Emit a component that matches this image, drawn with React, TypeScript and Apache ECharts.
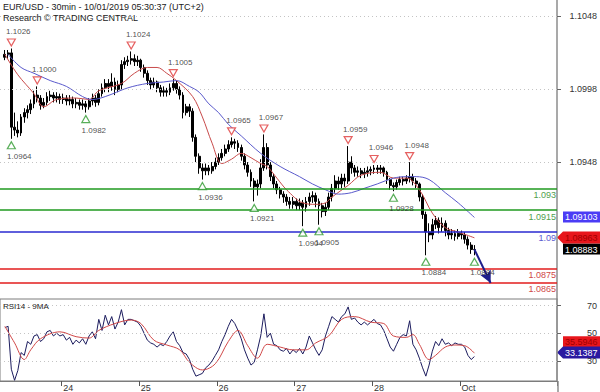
import React, { useEffect, useRef } from 'react';
import * as echarts from 'echarts';

// ---------- data ----------
const N_CATS = 172;
const DAY_TICKS: [number, string][] = [[19, '24'], [43, '25'], [67, '26'], [91, '27'], [115, '28'], [142, 'Oct']];
const PRICE_TICKS = [1.0948, 1.0998, 1.1048];
const RSI_TICKS = [30, 50, 70];

// hourly candles: [index, open, close, low, high]
const CANDLES: number[][] = [
  [1, 1.1020, 1.1022, 1.1018, 1.1025], [2, 1.1022, 1.1023, 1.1019, 1.1025], [3, 1.1023, 1.0972, 1.0964, 1.1026],
  [4, 1.0972, 1.0970, 1.0966, 1.0982], [5, 1.0970, 1.0968, 1.0965, 1.0976], [6, 1.0968, 1.0979, 1.0966, 1.0981],
  [7, 1.0979, 1.0982, 1.0975, 1.0985], [8, 1.0982, 1.0984, 1.0978, 1.0987], [9, 1.0984, 1.0988, 1.0981, 1.0991],
  [10, 1.0988, 1.0994, 1.0985, 1.0997], [11, 1.0994, 1.0992, 1.0989, 1.1000], [12, 1.0992, 1.0987, 1.0984, 1.0994],
  [13, 1.0987, 1.0989, 1.0985, 1.0992], [14, 1.0989, 1.0993, 1.0987, 1.0996], [15, 1.0993, 1.0994, 1.0990, 1.0997],
  [16, 1.0994, 1.0992, 1.0989, 1.0996], [17, 1.0992, 1.0993, 1.0989, 1.0996], [18, 1.0993, 1.0991, 1.0988, 1.0995],
  [19, 1.0991, 1.0992, 1.0988, 1.0995], [20, 1.0992, 1.0990, 1.0987, 1.0994], [21, 1.0990, 1.0991, 1.0987, 1.0994],
  [22, 1.0991, 1.0988, 1.0985, 1.0993], [23, 1.0988, 1.0989, 1.0985, 1.0992], [24, 1.0989, 1.0987, 1.0984, 1.0991],
  [25, 1.0987, 1.0988, 1.0984, 1.0991], [26, 1.0988, 1.0986, 1.0982, 1.0990], [27, 1.0986, 1.0990, 1.0984, 1.0992],
  [28, 1.0990, 1.0992, 1.0987, 1.0995], [29, 1.0992, 1.0989, 1.0986, 1.0994], [30, 1.0989, 1.0995, 1.0987, 1.0998],
  [31, 1.0995, 1.0999, 1.0993, 1.1002], [32, 1.0999, 1.1002, 1.0996, 1.1005], [33, 1.1002, 1.1000, 1.0996, 1.1005],
  [34, 1.1000, 1.1003, 1.0997, 1.1009], [35, 1.1003, 1.0998, 1.0994, 1.1006], [36, 1.0998, 1.1001, 1.0996, 1.1004],
  [37, 1.1001, 1.1015, 1.0998, 1.1018], [38, 1.1015, 1.1017, 1.1012, 1.1020], [39, 1.1017, 1.1018, 1.1014, 1.1021],
  [40, 1.1018, 1.1019, 1.1015, 1.1024], [41, 1.1019, 1.1017, 1.1014, 1.1022], [42, 1.1017, 1.1018, 1.1014, 1.1021],
  [43, 1.1018, 1.1013, 1.1010, 1.1019], [44, 1.1013, 1.1009, 1.1006, 1.1015], [45, 1.1009, 1.1004, 1.1001, 1.1011],
  [46, 1.1004, 1.1001, 1.0998, 1.1006], [47, 1.1001, 1.1003, 1.0999, 1.1006], [48, 1.1003, 1.0999, 1.0996, 1.1004],
  [49, 1.0999, 1.0996, 1.0993, 1.1001], [50, 1.0996, 1.0997, 1.0993, 1.1000], [51, 1.0997, 1.0996, 1.0993, 1.0999],
  [52, 1.0996, 1.0999, 1.0994, 1.1002], [53, 1.0999, 1.1002, 1.0997, 1.1005], [54, 1.1002, 1.0998, 1.0995, 1.1004],
  [55, 1.0998, 1.0994, 1.0991, 1.1000], [56, 1.0994, 1.0982, 1.0978, 1.0996], [57, 1.0982, 1.0986, 1.0980, 1.0988],
  [58, 1.0986, 1.0983, 1.0979, 1.0988], [59, 1.0983, 1.0965, 1.0962, 1.0985], [60, 1.0965, 1.0952, 1.0948, 1.0967],
  [61, 1.0952, 1.0944, 1.0940, 1.0954], [62, 1.0944, 1.0942, 1.0936, 1.0947], [63, 1.0942, 1.0944, 1.0939, 1.0947],
  [64, 1.0944, 1.0942, 1.0939, 1.0946], [65, 1.0942, 1.0945, 1.0940, 1.0948], [66, 1.0945, 1.0948, 1.0943, 1.0951],
  [67, 1.0948, 1.0951, 1.0946, 1.0954], [68, 1.0951, 1.0954, 1.0949, 1.0957], [69, 1.0954, 1.0957, 1.0952, 1.0960],
  [70, 1.0957, 1.0960, 1.0955, 1.0963], [71, 1.0960, 1.0962, 1.0958, 1.0965], [72, 1.0962, 1.0961, 1.0957, 1.0964],
  [73, 1.0961, 1.0958, 1.0955, 1.0963], [74, 1.0958, 1.0952, 1.0949, 1.0960], [75, 1.0952, 1.0946, 1.0943, 1.0954],
  [76, 1.0946, 1.0941, 1.0938, 1.0948], [77, 1.0941, 1.0935, 1.0931, 1.0943], [78, 1.0935, 1.0931, 1.0921, 1.0937],
  [79, 1.0931, 1.0933, 1.0925, 1.0936], [80, 1.0933, 1.0944, 1.0930, 1.0950], [81, 1.0944, 1.0958, 1.0942, 1.0967],
  [82, 1.0958, 1.0946, 1.0943, 1.0961], [83, 1.0946, 1.0938, 1.0935, 1.0948], [84, 1.0938, 1.0933, 1.0930, 1.0940],
  [85, 1.0933, 1.0929, 1.0926, 1.0935], [86, 1.0929, 1.0926, 1.0923, 1.0931], [87, 1.0926, 1.0924, 1.0920, 1.0928],
  [88, 1.0924, 1.0921, 1.0918, 1.0926], [89, 1.0921, 1.0919, 1.0916, 1.0924], [90, 1.0919, 1.0921, 1.0916, 1.0924],
  [91, 1.0921, 1.0918, 1.0915, 1.0923], [92, 1.0918, 1.0920, 1.0915, 1.0923], [93, 1.0920, 1.0917, 1.0904, 1.0922],
  [94, 1.0917, 1.0921, 1.0914, 1.0924], [95, 1.0921, 1.0924, 1.0918, 1.0927], [96, 1.0924, 1.0925, 1.0920, 1.0928],
  [97, 1.0925, 1.0921, 1.0917, 1.0927], [98, 1.0921, 1.0918, 1.0905, 1.0923], [99, 1.0918, 1.0914, 1.0910, 1.0920],
  [100, 1.0914, 1.0917, 1.0911, 1.0920], [101, 1.0917, 1.0924, 1.0915, 1.0927], [102, 1.0924, 1.0930, 1.0921, 1.0933],
  [103, 1.0930, 1.0935, 1.0927, 1.0939], [104, 1.0935, 1.0933, 1.0929, 1.0938], [105, 1.0933, 1.0937, 1.0930, 1.0940],
  [106, 1.0937, 1.0935, 1.0931, 1.0940], [107, 1.0935, 1.0948, 1.0933, 1.0959], [108, 1.0948, 1.0944, 1.0940, 1.0952],
  [109, 1.0944, 1.0941, 1.0938, 1.0946], [110, 1.0941, 1.0942, 1.0938, 1.0945], [111, 1.0942, 1.0940, 1.0937, 1.0944],
  [112, 1.0940, 1.0941, 1.0937, 1.0944], [113, 1.0941, 1.0942, 1.0938, 1.0945], [114, 1.0942, 1.0943, 1.0939, 1.0945],
  [115, 1.0943, 1.0944, 1.0940, 1.0946], [116, 1.0944, 1.0943, 1.0940, 1.0946], [117, 1.0943, 1.0944, 1.0940, 1.0946],
  [118, 1.0944, 1.0941, 1.0938, 1.0945], [119, 1.0941, 1.0936, 1.0933, 1.0942], [120, 1.0936, 1.0932, 1.0929, 1.0937],
  [121, 1.0932, 1.0931, 1.0928, 1.0934], [122, 1.0931, 1.0934, 1.0929, 1.0936], [123, 1.0934, 1.0936, 1.0932, 1.0938],
  [124, 1.0936, 1.0935, 1.0932, 1.0938], [125, 1.0935, 1.0937, 1.0933, 1.0939], [126, 1.0937, 1.0938, 1.0934, 1.0948],
  [127, 1.0938, 1.0935, 1.0932, 1.0940], [128, 1.0935, 1.0933, 1.0930, 1.0937], [129, 1.0933, 1.0924, 1.0921, 1.0934],
  [130, 1.0924, 1.0912, 1.0909, 1.0926], [131, 1.0912, 1.0900, 1.0884, 1.0914], [132, 1.0900, 1.0898, 1.0893, 1.0906],
  [133, 1.0898, 1.0905, 1.0895, 1.0909], [134, 1.0905, 1.0908, 1.0902, 1.0911], [135, 1.0908, 1.0903, 1.0899, 1.0910],
  [136, 1.0903, 1.0906, 1.0900, 1.0910], [137, 1.0906, 1.0901, 1.0897, 1.0908], [138, 1.0901, 1.0898, 1.0895, 1.0903],
  [139, 1.0898, 1.0899, 1.0895, 1.0902], [140, 1.0899, 1.0897, 1.0894, 1.0901], [141, 1.0897, 1.0899, 1.0895, 1.0902],
  [142, 1.0899, 1.0898, 1.0895, 1.0901], [143, 1.0898, 1.0895, 1.0892, 1.0900], [144, 1.0895, 1.0891, 1.0888, 1.0897],
  [145, 1.0891, 1.0888, 1.0885, 1.0893], [146, 1.0888, 1.0888, 1.0884, 1.0891],
];

const RED_MA: number[][] = [
  [1, 1.1022], [5, 1.1008], [10, 1.0995], [13, 1.0986], [17, 1.0991], [23, 1.0992], [27, 1.0991], [30, 1.0997],
  [37, 1.1002], [41, 1.1009], [45, 1.1013], [48, 1.1013], [51, 1.1009], [54, 1.1004], [59, 1.0993], [62, 1.0979],
  [65, 1.0961], [68, 1.0947], [71, 1.0950], [74, 1.0954], [77, 1.0951], [80, 1.0947], [82, 1.0945], [85, 1.0937],
  [88, 1.0929], [93, 1.0920], [97, 1.0919], [100, 1.0920], [102, 1.0924], [107, 1.0932], [111, 1.0939], [117, 1.0941],
  [121, 1.0937], [125, 1.0937], [129, 1.0929], [133, 1.0913], [137, 1.0903], [141, 1.0900], [146, 1.0896],
];

const BLUE_MA: number[][] = [
  [2, 1.1022], [6, 1.1013], [10, 1.1009], [15, 1.1004], [20, 1.1000], [25, 1.0993], [28, 1.0991], [32, 1.0993],
  [39, 1.0999], [45, 1.1002], [50, 1.1003], [54, 1.1004], [58, 1.1000], [61, 1.0996], [64, 1.0988], [67, 1.0982],
  [70, 1.0974], [74, 1.0966], [80, 1.0954], [86, 1.0945], [92, 1.0938], [96, 1.0933], [100, 1.0929], [104, 1.0926],
  [108, 1.0927], [112, 1.0930], [116, 1.0933], [121, 1.0937], [125, 1.0938], [128, 1.0938], [132, 1.0936],
  [137, 1.0927], [141, 1.0920], [146, 1.0910],
];

const SWING_HIGHS: number[][] = [
  [3, 1.1026], [11, 1.1000], [40, 1.1024], [53, 1.1005], [71, 1.0965], [81, 1.0967], [107, 1.0959], [115, 1.0946], [126, 1.0948],
];
const SWING_LOWS: number[][] = [
  [3, 1.0964], [26, 1.0982], [62, 1.0936], [78, 1.0921], [93, 1.0904], [98, 1.0905], [121, 1.0928], [131, 1.0884], [146, 1.0884],
];

const LEVELS_GREEN = [1.093, 1.0915];
const LEVELS_BLUE = [1.09];
const LEVELS_RED = [1.0875, 1.0865];
const PROJECTION: number[][] = [[146, 1.0888], [151, 1.0865]];

const RSI: number[][] = [
  [1, 54], [2, 55], [3, 24], [4, 16], [5, 23], [6, 36], [7, 34], [8, 44], [9, 42], [10, 48], [11, 49], [12, 44],
  [13, 46], [14, 51], [15, 52], [16, 48], [17, 50], [18, 48], [19, 49], [20, 45], [21, 47], [22, 42], [23, 45],
  [24, 43], [25, 46], [26, 42], [27, 48], [28, 51], [29, 46], [30, 60], [31, 52], [32, 63], [33, 56], [34, 62],
  [35, 53], [36, 58], [37, 67], [38, 56], [39, 60], [40, 60], [41, 59], [42, 58], [43, 55], [44, 50], [45, 45],
  [46, 43], [47, 42], [48, 40], [49, 42], [50, 41], [51, 44], [52, 48], [53, 51], [54, 44], [55, 41], [56, 36],
  [57, 35], [58, 31], [59, 24], [60, 19], [61, 20], [62, 21], [63, 25], [64, 27], [65, 30], [66, 34], [67, 38],
  [68, 44], [69, 49], [70, 55], [71, 60], [72, 57], [73, 52], [74, 46], [75, 38], [76, 32], [77, 27], [78, 29],
  [79, 38], [80, 48], [81, 64], [82, 47], [83, 50], [84, 42], [85, 41], [86, 38], [87, 37], [88, 39], [89, 35],
  [90, 38], [91, 36], [92, 39], [93, 35], [94, 40], [95, 48], [96, 43], [97, 38], [98, 34], [99, 38], [100, 48],
  [101, 55], [102, 62], [103, 60], [104, 58], [105, 62], [106, 64], [107, 69], [108, 60], [109, 61], [110, 58],
  [111, 56], [112, 58], [113, 56], [114, 58], [115, 60], [116, 57], [117, 56], [118, 52], [119, 46], [120, 40],
  [121, 37], [122, 42], [123, 47], [124, 49], [125, 48], [126, 59], [127, 42], [128, 38], [129, 32], [130, 25],
  [131, 19], [132, 27], [133, 37], [134, 44], [135, 41], [136, 46], [137, 42], [138, 43], [139, 41], [140, 43],
  [141, 42], [142, 42], [143, 40], [144, 34], [145, 31], [146, 33.14],
];

const RSI_MA: number[][] = [
  [1, 55], [4, 43], [7, 31], [9, 38], [12, 46], [18, 51], [23, 47.5], [27, 46.5], [30, 52], [35, 57], [40, 59.5],
  [43, 57], [47, 45], [51, 41.5], [55, 38], [58, 29], [62, 23.5], [66, 28], [70, 44], [73, 52], [76, 41], [79, 32],
  [82, 42], [86, 40], [90, 38], [94, 38], [97, 43], [101, 48], [105, 60], [109, 62], [114, 58], [118, 57], [121, 48],
  [125, 47], [127, 49], [129, 42], [132, 31], [134, 34], [137, 40], [140, 41.5], [143, 41], [146, 35.59],
];

const TAG_BLUE_MA = 1.09103;
const TAG_RED_MA = 1.08963;
const TAG_LAST = 1.08883;
const TAG_RSI_MA = 35.5946;
const TAG_RSI = 33.1387;

const TITLE_1 = 'EUR/USD - 30min - 10/01/2019 05:30:37 (UTC+2)';
const TITLE_2 = 'Research \u00A9 TRADING CENTRAL';
const RSI_TITLE = 'RSI14 - 9MA';

// ---------- chart ----------
const FONT = 'Liberation Sans, Arial, sans-serif';

export default function App() {
  const ref = useRef<HTMLDivElement>(null);

  useEffect(() => {
    document.body.style.margin = '0';
    if (!ref.current) return;
    const chart = echarts.init(ref.current, undefined, { renderer: 'svg' });

    const cats = Array.from({ length: N_CATS }, (_, i) => String(i));
    const dayMap: Record<number, string> = {};
    DAY_TICKS.forEach(([i, l]) => (dayMap[i] = l));
    const showDay = (idx: number) => dayMap[idx] !== undefined;

    const levelItem = (v: number, line: string, text: string) => ({
      yAxis: v,
      lineStyle: { color: line, width: 1.5, type: 'solid' },
      label: {
        show: true, position: 'insideEndBottom', formatter: String(v), color: text,
        fontSize: 9, fontFamily: FONT, distance: [1, 2],
      },
    });
    const gridItem = (v: number) => ({
      yAxis: v,
      lineStyle: { color: '#c4c4c4', width: 1, type: [1, 3] },
      label: { show: false },
    });

    const option: any = {
      animation: false,
      backgroundColor: '#ffffff',
      textStyle: { fontFamily: FONT },
      grid: [
        { left: 0, top: 0, width: 558, height: 299 },
        { left: 0, top: 299, width: 558, height: 82, show: true, borderColor: '#7c7c7c', borderWidth: 1 },
      ],
      xAxis: [
        { type: 'category', gridIndex: 0, data: cats, boundaryGap: true, show: false },
        {
          type: 'category', gridIndex: 1, data: cats, boundaryGap: true,
          axisLine: { show: true, lineStyle: { color: '#7c7c7c', width: 1 } },
          axisTick: { show: true, interval: (i: number) => showDay(i), length: 5, lineStyle: { color: '#555' } },
          axisLabel: {
            interval: (i: number) => showDay(i), formatter: (_v: string, i: number) => dayMap[i] || '',
            align: 'left', margin: 2, fontSize: 9, color: '#333', fontFamily: FONT,
          },
          splitLine: { show: false },
        },
      ],
      yAxis: [
        {
          type: 'value', gridIndex: 0, position: 'right', min: 1.085398, max: 1.105933,
          axisLine: { show: true, lineStyle: { color: '#8c8c8c', width: 1.5 } },
          axisTick: { show: true, customValues: PRICE_TICKS, length: 4, lineStyle: { color: '#666' } },
          axisLabel: {
            customValues: PRICE_TICKS, formatter: (v: number) => v.toFixed(4), align: 'right', margin: 40,
            fontSize: 9, color: '#333', fontFamily: FONT,
          },
          splitLine: { show: false },
        },
        {
          type: 'value', gridIndex: 1, position: 'right', min: 15.5, max: 74.7,
          axisLine: { show: true, lineStyle: { color: '#8c8c8c', width: 1.5 } },
          axisTick: { show: true, customValues: RSI_TICKS, length: 4, lineStyle: { color: '#666' } },
          axisLabel: {
            customValues: RSI_TICKS, formatter: (v: number) => String(v), align: 'right', margin: 40,
            fontSize: 9, color: '#333', fontFamily: FONT,
          },
          splitLine: { show: false },
        },
      ],
      series: [
        {
          type: 'candlestick', xAxisIndex: 0, yAxisIndex: 0, data: CANDLES,
          encode: { x: 0, y: [1, 2, 3, 4] }, barWidth: 2.4,
          itemStyle: { color: '#000000', color0: '#000000', borderColor: '#000000', borderColor0: '#000000', borderWidth: 1 },
        },
        {
          type: 'line', xAxisIndex: 0, yAxisIndex: 0, data: [], symbol: 'none', z: 1,
          markLine: {
            silent: true, symbol: ['none', 'none'], animation: false, precision: 6,
            data: [
              ...PRICE_TICKS.map(gridItem),
              ...LEVELS_GREEN.map((v) => levelItem(v, '#1f9a1f', '#4f9f4f')),
              ...LEVELS_BLUE.map((v) => levelItem(v, '#2a2ad0', '#5a5ad0')),
              ...LEVELS_RED.map((v) => levelItem(v, '#e21c1c', '#d04848')),
            ],
          },
        },
        {
          type: 'line', xAxisIndex: 0, yAxisIndex: 0, data: RED_MA, smooth: 0.35, symbol: 'none',
          lineStyle: { color: '#c84a4a', width: 1 }, z: 3,
        },
        {
          type: 'line', xAxisIndex: 0, yAxisIndex: 0, data: BLUE_MA, smooth: 0.35, symbol: 'none',
          lineStyle: { color: '#5a5acc', width: 1 }, z: 3,
        },
        {
          type: 'scatter', xAxisIndex: 0, yAxisIndex: 0, data: SWING_HIGHS, symbol: 'triangle', symbolRotate: 180,
          symbolSize: [8, 7], symbolOffset: [0, -6], z: 5,
          itemStyle: { color: '#ffffff', borderColor: '#e03a3a', borderWidth: 1.2 },
          label: {
            show: true, position: 'top', distance: 3, offset: [7, 0], fontSize: 8, color: '#222', fontFamily: FONT,
            formatter: (p: any) => p.value[1].toFixed(4),
          },
        },
        {
          type: 'scatter', xAxisIndex: 0, yAxisIndex: 0, data: SWING_LOWS, symbol: 'triangle',
          symbolSize: [8, 7], symbolOffset: [0, 6.5], z: 5,
          itemStyle: { color: '#ffffff', borderColor: '#2f9a2f', borderWidth: 1.2 },
          label: {
            show: true, position: 'bottom', distance: 3, offset: [8, 0], fontSize: 8, color: '#222', fontFamily: FONT,
            formatter: (p: any) => p.value[1].toFixed(4),
          },
        },
        {
          type: 'line', xAxisIndex: 0, yAxisIndex: 0, data: [], symbol: 'none', z: 8,
          markLine: {
            silent: true, animation: false, precision: 6, symbol: ['none', 'arrow'], symbolSize: [9, 12],
            lineStyle: { color: '#1e1e8c', width: 2, type: 'solid' },
            label: { show: false },
            data: [[{ coord: PROJECTION[0] }, { coord: PROJECTION[1] }]],
          },
        },
        {
          type: 'line', xAxisIndex: 1, yAxisIndex: 1, data: RSI, symbol: 'none',
          lineStyle: { color: '#1c1c5e', width: 1 },
          markLine: {
            silent: true, symbol: ['none', 'none'], animation: false, precision: 4,
            data: RSI_TICKS.map((v) => ({ yAxis: v, lineStyle: { color: '#c4c4c4', width: 1, type: [1, 3] }, label: { show: false } })),
          },
        },
        {
          type: 'line', xAxisIndex: 1, yAxisIndex: 1, data: RSI_MA, smooth: 0.35, symbol: 'none',
          lineStyle: { color: '#d04848', width: 1 },
        },
      ],
    };

    chart.setOption(option);

    const py = (v: number) => chart.convertToPixel({ yAxisIndex: 0 } as any, v) as unknown as number;
    const ry = (v: number) => chart.convertToPixel({ yAxisIndex: 1 } as any, v) as unknown as number;

    const rectTag = (yc: number, text: string, fill: string, color: string) => ({
      type: 'group', z: 100,
      children: [
        { type: 'rect', shape: { x: 563, y: yc - 5.5, width: 37, height: 11 }, style: { fill } },
        { type: 'text', style: { text, x: 565, y: yc + 0.5, fill: color, fontSize: 9, fontFamily: FONT, verticalAlign: 'middle', align: 'left' } },
      ],
    });
    const arrowTag = (yc: number, text: string, fill: string, color: string) => ({
      type: 'group', z: 100,
      children: [
        { type: 'polygon', shape: { points: [[557, yc], [563, yc - 6], [600, yc - 6], [600, yc + 6], [563, yc + 6]] }, style: { fill } },
        { type: 'text', style: { text, x: 565, y: yc + 0.5, fill: color, fontSize: 9, fontFamily: FONT, verticalAlign: 'middle', align: 'left' } },
      ],
    });

    chart.setOption({
      graphic: [
        { type: 'text', z: 100, style: { text: TITLE_1, x: 3, y: 2, fill: '#222', fontSize: 9, fontFamily: FONT } },
        { type: 'text', z: 100, style: { text: TITLE_2, x: 3, y: 13, fill: '#222', fontSize: 9, fontFamily: FONT } },
        { type: 'text', z: 100, style: { text: RSI_TITLE, x: 3, y: 302, fill: '#222', fontSize: 8, fontFamily: FONT } },
        { type: 'line', z: 100, shape: { x1: 558, y1: 381, x2: 558, y2: 392 }, style: { stroke: '#8c8c8c', lineWidth: 1.5 } },
        rectTag(py(TAG_BLUE_MA), String(TAG_BLUE_MA), '#4b3cf5', '#ffffff'),
        rectTag(py(TAG_LAST), String(TAG_LAST), '#000000', '#ffffff'),
        arrowTag(py(TAG_RED_MA), String(TAG_RED_MA), '#e8161c', '#a00000'),
        rectTag(ry(TAG_RSI_MA) - 11.5, String(TAG_RSI_MA), '#e8161c', '#a00000'),
        arrowTag(ry(TAG_RSI) - 4, String(TAG_RSI), '#2a1aa0', '#ffffff'),
      ],
    });

    return () => chart.dispose();
  }, []);

  return <div ref={ref} style={{ position: 'fixed', left: 0, top: 0, width: 600, height: 392 }} />;
}
